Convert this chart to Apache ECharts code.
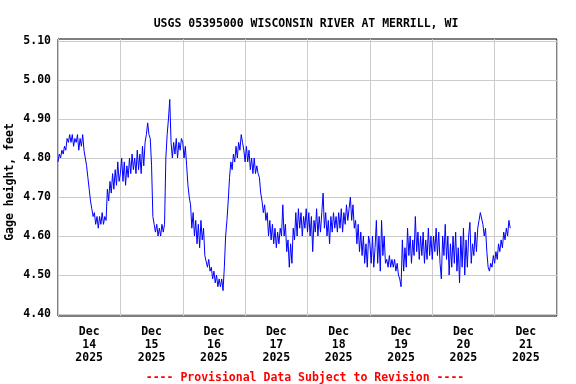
<!DOCTYPE html>
<html>
<head>
<meta charset="utf-8">
<script src="https://cdn.jsdelivr.net/npm/echarts@6/dist/echarts.min.js"></script>
<style>html,body{margin:0;padding:0;background:#fff;}#c{width:576px;height:384px;}</style>
</head>
<body>
<div id="c"></div>
<script>
// Gage height (feet), 30-minute readings starting Dec 14 2025 00:00
const dec14 = [4.79,4.81,4.80,4.82,4.81,4.83,4.82,4.85,4.84,4.86,4.84,4.86,4.83,4.85,4.84,4.86,4.82,4.85,4.83,4.86,4.82,4.80,4.78,4.75,
  4.72,4.69,4.67,4.65,4.66,4.63,4.65,4.62,4.65,4.63,4.66,4.63,4.65,4.64,4.72,4.69,4.74,4.71,4.76,4.72,4.77,4.73,4.79,4.74];
const dec15 = [4.76,4.80,4.74,4.79,4.73,4.78,4.75,4.80,4.76,4.81,4.77,4.80,4.76,4.82,4.77,4.81,4.76,4.83,4.78,4.84,4.86,4.89,4.86,4.85,
  4.78,4.65,4.63,4.61,4.63,4.60,4.62,4.60,4.63,4.61,4.63,4.80,4.86,4.90,4.95,4.84,4.80,4.84,4.81,4.85,4.80,4.84,4.82,4.85];
const dec16 = [4.84,4.80,4.83,4.78,4.73,4.70,4.68,4.62,4.66,4.60,4.64,4.58,4.63,4.57,4.64,4.59,4.62,4.55,4.55,4.52,4.54,4.51,4.52,4.49,
  4.51,4.48,4.50,4.47,4.49,4.47,4.49,4.46,4.52,4.60,4.64,4.69,4.75,4.79,4.77,4.81,4.79,4.83,4.80,4.84,4.82,4.86,4.84,4.82];
const dec17 = [4.79,4.83,4.79,4.82,4.77,4.80,4.76,4.80,4.76,4.78,4.76,4.75,4.71,4.69,4.66,4.68,4.64,4.66,4.60,4.64,4.59,4.63,4.58,4.62,
  4.57,4.61,4.58,4.62,4.60,4.68,4.60,4.63,4.56,4.59,4.52,4.58,4.53,4.62,4.59,4.66,4.60,4.67,4.62,4.66,4.60,4.65,4.62,4.67];
const dec18 = [4.61,4.66,4.60,4.65,4.56,4.64,4.61,4.67,4.60,4.65,4.61,4.66,4.71,4.62,4.66,4.60,4.64,4.58,4.65,4.61,4.66,4.62,4.65,4.61,
  4.66,4.62,4.67,4.61,4.66,4.63,4.68,4.64,4.67,4.70,4.64,4.68,4.62,4.64,4.58,4.63,4.56,4.61,4.55,4.60,4.53,4.58,4.52,4.60];
const dec19 = [4.58,4.53,4.60,4.52,4.57,4.64,4.53,4.60,4.51,4.64,4.55,4.60,4.53,4.54,4.52,4.55,4.52,4.54,4.52,4.54,4.51,4.53,4.50,4.49,
  4.47,4.59,4.51,4.57,4.52,4.62,4.55,4.60,4.53,4.59,4.55,4.65,4.56,4.61,4.54,4.60,4.55,4.61,4.53,4.59,4.54,4.62,4.55,4.60];
const dec20 = [4.54,4.60,4.56,4.62,4.55,4.61,4.53,4.49,4.60,4.55,4.63,4.54,4.60,4.50,4.58,4.52,4.60,4.53,4.61,4.51,4.57,4.48,4.60,4.52,
  4.62,4.50,4.59,4.52,4.60,4.635,4.53,4.58,4.55,4.61,4.56,4.62,4.64,4.66,4.665,4.63,4.60,4.62,4.56,4.52,4.51,4.53,4.52,4.55];
const dec21 = [4.53,4.56,4.54,4.58,4.56,4.59,4.57,4.61,4.59,4.62,4.60,4.64,4.62];

const yTicks = [4.40,4.50,4.60,4.70,4.80,4.90,5.00,5.10];
const xLabels = ['Dec\n14\n2025','Dec\n15\n2025','Dec\n16\n2025','Dec\n17\n2025','Dec\n18\n2025','Dec\n19\n2025','Dec\n20\n2025','Dec\n21\n2025'];

// x axis in hours since Dec 14 2025 00:00
const STEP_H = 0.5;
const values = [].concat(dec14, dec15, dec16, dec17, dec18, dec19, dec20, dec21);
const data = values.map((v, i) => [i * STEP_H, v]);
const midnights = [], noons = [];
for (let d = 0; d <= 8; d++) midnights.push(d * 24);
for (let d = 0; d < xLabels.length; d++) noons.push(d * 24 + 12);

const FONT = 'DejaVu Sans Mono';
const chart = echarts.init(document.getElementById('c'), null, {renderer: 'canvas'});
chart.setOption({
  animation: false,
  backgroundColor: '#fff',
  title: [
    {text: 'USGS 05395000 WISCONSIN RIVER AT MERRILL, WI', left: 301, top: 13, textAlign: 'center',
     textStyle: {fontFamily: FONT, fontSize: 11.5, fontWeight: 'bold', color: '#000'}},
    {text: '---- Provisional Data Subject to Revision ----', left: 300, top: 367, textAlign: 'center',
     textStyle: {fontFamily: FONT, fontSize: 11.5, fontWeight: 'bold', color: '#ff0000'}}
  ],
  grid: {left: 58, right: 19, top: 39, bottom: 68, outerBoundsMode: 'none', containLabel: false,
    show: true, borderColor: '#000', borderWidth: 1, backgroundColor: 'transparent'},
  xAxis: {
    type: 'value', min: 0, max: 192,
    axisLine: {show: false}, axisTick: {show: false, customValues: midnights},
    splitLine: {show: true, lineStyle: {color: '#cccccc', width: 1}},
    axisLabel: {customValues: noons, margin: 10, lineHeight: 13, fontFamily: FONT, fontSize: 11.5, fontWeight: 'bold', color: '#000',
      formatter: v => xLabels[Math.round((v - 12) / 24)] || ''}
  },
  yAxis: {
    type: 'value', min: 4.395, max: 5.105,
    name: 'Gage height, feet', nameLocation: 'middle', nameGap: 42, nameMoveOverlap: false,
    nameTextStyle: {fontFamily: FONT, fontSize: 11.5, fontWeight: 'bold', color: '#000', padding: [0, 9, 0, 0]},
    axisLine: {show: false}, axisTick: {show: false, customValues: yTicks},
    splitLine: {show: true, lineStyle: {color: '#cccccc', width: 1}},
    axisLabel: {customValues: yTicks, margin: 7, fontFamily: FONT, fontSize: 11.5, fontWeight: 'bold', color: '#000',
      formatter: v => v.toFixed(2)}
  },
  series: [{
    type: 'line', data: data, showSymbol: false, symbol: 'none',
    lineStyle: {color: '#0000ff', width: 1}, itemStyle: {color: '#0000ff'}, z: 3
  }]
});
</script>
</body>
</html>
